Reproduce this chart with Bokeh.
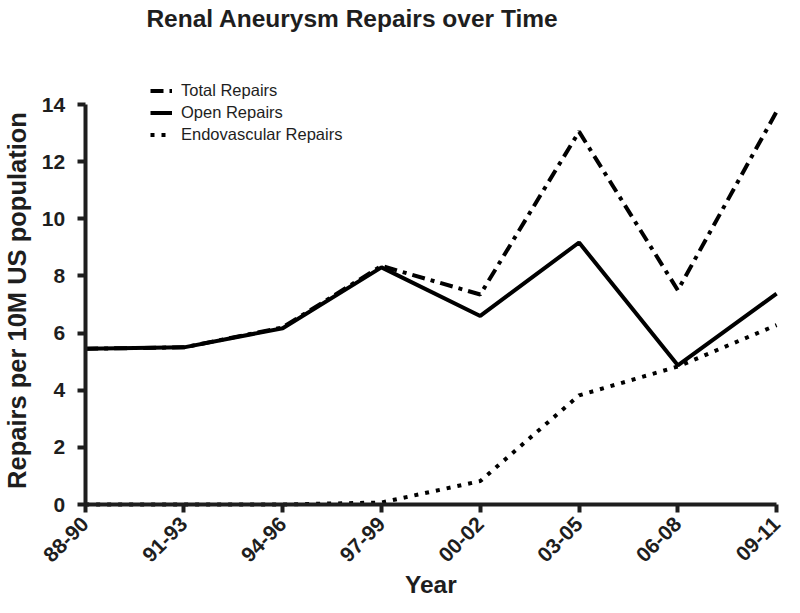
import math
from bokeh.plotting import figure
from bokeh.models import Range1d, FixedTicker, Legend, LegendItem, Label
from bokeh.embed import file_html
from bokeh.resources import INLINE

title_text = "Renal Aneurysm Repairs over Time"
x_label = "Year"
y_label = "Repairs per 10M US population"
categories = ["88-90", "91-93", "94-96", "97-99", "00-02", "03-05", "06-08", "09-11"]
total_repairs = [5.45, 5.5, 6.2, 8.35, 7.35, 13.05, 7.5, 13.75]
open_repairs = [5.45, 5.5, 6.17, 8.3, 6.6, 9.17, 4.87, 7.38]
endo_repairs = [0.0, 0.0, 0.0, 0.07, 0.82, 3.82, 4.83, 6.28]
y_ticks = [0, 2, 4, 6, 8, 10, 12, 14]

xs = list(range(len(categories)))

FONT = "Liberation Sans"
INK = "#1e1e1e"

# The plot area covers the whole canvas; both axes are pinned at 0 and bounded
# to the data extent, so the legend, title and axis titles are never clipped.
p = figure(width=784, height=597, output_backend="svg", toolbar_location=None,
           x_range=Range1d(-0.857, 7.08), y_range=Range1d(-3.255, 17.64),
           min_border_left=0, min_border_right=0, min_border_top=0, min_border_bottom=0)
p.outline_line_color = None
p.grid.visible = False
p.background_fill_color = "white"

r_total = p.line(xs, total_repairs, line_width=4, color="black", line_dash="13 6 4 6")
r_open = p.line(xs, open_repairs, line_width=4, color="black")
r_endo = p.line(xs, endo_repairs, line_width=4, color="black", line_dash="4 7")

for ax in (p.xaxis[0], p.yaxis[0]):
    ax.axis_line_width = 4
    ax.axis_line_color = INK
    ax.major_tick_line_width = 4
    ax.major_tick_line_color = INK
    ax.major_tick_out = 8
    ax.major_tick_in = 0
    ax.minor_tick_line_color = None
    ax.major_label_text_font = FONT
    ax.major_label_text_font_size = "21px"
    ax.major_label_text_font_style = "bold"
    ax.major_label_text_color = INK

p.xaxis.ticker = FixedTicker(ticks=xs)
p.xaxis.major_label_overrides = {i: c for i, c in enumerate(categories)}
p.xaxis.major_label_orientation = math.pi / 4
p.xaxis.major_label_standoff = 8
p.xaxis.bounds = (0, len(categories) - 1)
p.xaxis.fixed_location = 0

p.yaxis.ticker = FixedTicker(ticks=y_ticks)
p.yaxis.bounds = (0, 14)
p.yaxis.fixed_location = 0
p.yaxis.major_label_standoff = 12

title = Label(x=0.62, y=17.01, text=title_text, text_align="left", text_baseline="middle",
              text_font=FONT, text_font_size="24.5px", text_font_style="bold", text_color=INK)
p.add_layout(title)

xlab = Label(x=3.5, y=-2.8, text=x_label, text_align="center", text_baseline="middle",
             text_font=FONT, text_font_size="24.5px", text_font_style="bold", text_color=INK)
p.add_layout(xlab)

ylab = Label(x=-0.695, y=7.14, text=y_label, angle=math.pi / 2, text_align="center",
             text_baseline="middle", text_font=FONT, text_font_size="25.5px",
             text_font_style="bold", text_color=INK)
p.add_layout(ylab)

legend = Legend(items=[
    LegendItem(label="Total Repairs", renderers=[r_total]),
    LegendItem(label="Open Repairs", renderers=[r_open]),
    LegendItem(label="Endovascular Repairs", renderers=[r_endo]),
], location=(150, 452))
legend.background_fill_alpha = 0
legend.border_line_color = None
legend.label_text_font = FONT
legend.label_text_font_size = "16.5px"
legend.label_text_color = INK
legend.glyph_width = 22
legend.glyph_height = 21
legend.label_height = 21
legend.spacing = 1
legend.padding = 0
legend.margin = 0
legend.label_standoff = 9
p.add_layout(legend, "center")

open("out.html", "w").write(file_html(p, INLINE))
